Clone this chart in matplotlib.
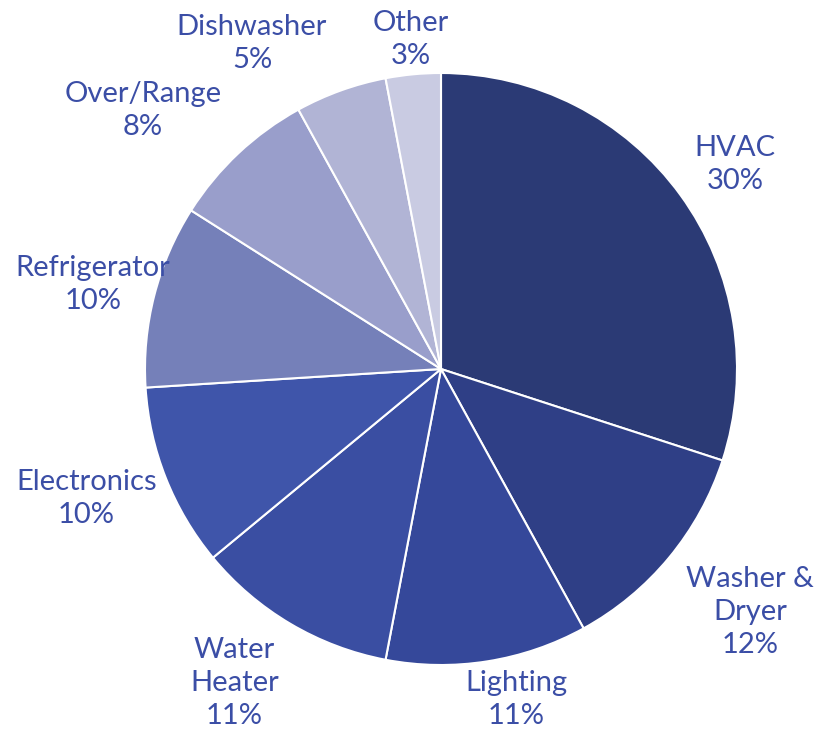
import numpy as np
import matplotlib
matplotlib.use("Agg")
import matplotlib.pyplot as plt

categories = ["HVAC", "Washer &\nDryer", "Lighting", "Water\nHeater", "Electronics",
              "Refrigerator", "Over/Range", "Dishwasher", "Other"]
shares = [30, 12, 11, 11, 10, 10, 8, 5, 3]

colors = ["#2b3a75", "#2f3f86", "#35489a", "#3a4ea2", "#3f55aa",
          "#7580b9", "#999ecb", "#b1b4d5", "#c9cbe2"]
# label placement: radial distance (pie radii) and angular nudge (degrees)
label_dist = [1.215, 1.324, 1.14, 1.265, 1.274, 1.211, 1.338, 1.277, 1.126]
label_nudge = [-0.9, 1.65, 3.9, -2.9, -1.8, 0.5, 5.6, 10.2, -0.2]
text_color = "#3b4ea6"

fig = plt.figure(figsize=(8.24, 7.30), dpi=100)
ax = fig.add_axes([0, 0, 1, 1])

R = 296
wedges, _ = ax.pie(shares, colors=colors, startangle=90, counterclock=False,
                   radius=R, wedgeprops=dict(edgecolor="white", linewidth=1.5))
ax.set_xlim(-441, 383)
ax.set_ylim(-361, 369)
ax.set_aspect("equal")
ax.axis("off")

for w, name, pct, d, nudge in zip(wedges, categories, shares, label_dist, label_nudge):
    ang = np.deg2rad((w.theta1 + w.theta2) / 2 + nudge)
    x, y = d * R * np.cos(ang), d * R * np.sin(ang)
    ax.text(x, y - 2, f"{name}\n{pct}%", ha="center", va="center",
            fontsize=21, color=text_color, family=["Lato", "DejaVu Sans"],
            linespacing=1.33)

fig.savefig("out.png", dpi=100)
